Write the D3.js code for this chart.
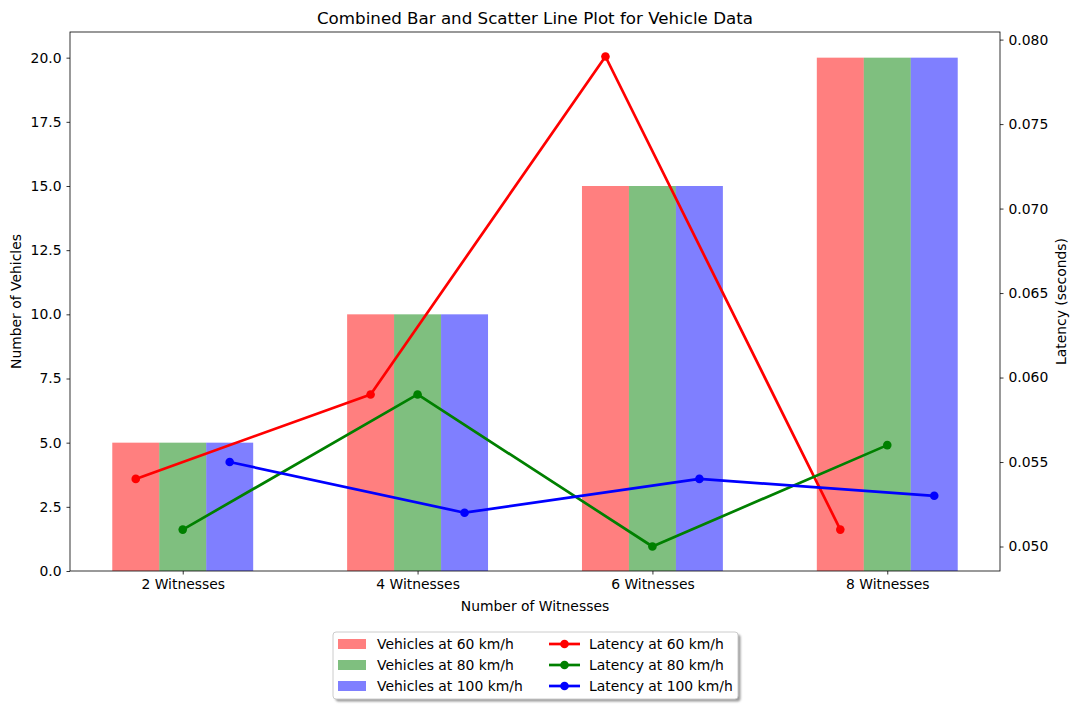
<!DOCTYPE html>
<html><head><meta charset="utf-8">
<script src="https://cdn.jsdelivr.net/npm/d3@7"></script>
<style>body{margin:0;background:#fff;} text{font-family:"DejaVu Sans",sans-serif;}</style>
</head><body>
<svg id="c" width="1078" height="709"></svg>
<script>
const categories = ["2 Witnesses","4 Witnesses","6 Witnesses","8 Witnesses"];
const vehicles60 = [5,10,15,20];
const vehicles80 = [5,10,15,20];
const vehicles100 = [5,10,15,20];
const latency60 = [0.054,0.059,0.079,0.051];
const latency80 = [0.051,0.059,0.050,0.056];
const latency100 = [0.055,0.052,0.054,0.053];
const leftTicks = [0,2.5,5,7.5,10,12.5,15,17.5,20];
const rightTicks = [0.050,0.055,0.060,0.065,0.070,0.075,0.080];

const barSeries = [
  {name:"Vehicles at 60 km/h", values:vehicles60, color:"#ff0000", off:-0.2},
  {name:"Vehicles at 80 km/h", values:vehicles80, color:"#008000", off:0},
  {name:"Vehicles at 100 km/h", values:vehicles100, color:"#0000ff", off:0.2}
];
const lineSeries = [
  {name:"Latency at 60 km/h", values:latency60, color:"#ff0000", off:-0.2},
  {name:"Latency at 80 km/h", values:latency80, color:"#008000", off:0},
  {name:"Latency at 100 km/h", values:latency100, color:"#0000ff", off:0.2}
];

const svg = d3.select("#c");
const L=70, R=1000, T=32, B=571;
const x = d3.scaleLinear().domain([-0.48,3.48]).range([L,R]);
const y = d3.scaleLinear().domain([0,21]).range([B,T]);
const allLat = latency60.concat(latency80, latency100);
const lmin = d3.min(allLat), lmax = d3.max(allLat), m = (lmax-lmin)*0.05;
const y2 = d3.scaleLinear().domain([lmin-m, lmax+m]).range([B,T]);
const bw = 0.2;

const defs = svg.append("defs");
defs.append("filter").attr("id","blur").append("feGaussianBlur").attr("stdDeviation",1);

// bars
barSeries.forEach(s=>{
  svg.append("g").selectAll("rect").data(s.values).join("rect")
    .attr("x",(d,i)=>x(i+s.off-bw/2))
    .attr("width",(d,i)=>x(i+s.off+bw/2)-x(i+s.off-bw/2))
    .attr("y",d=>y(d)).attr("height",d=>y(0)-y(d))
    .attr("fill",s.color).attr("fill-opacity",0.5);
});

// axes
const fs = "13.9px";
const ax = svg.append("g").attr("transform",`translate(0,${B})`)
  .call(d3.axisBottom(x).tickValues([0,1,2,3]).tickFormat(i=>categories[i]).tickSizeOuter(0).tickSize(3.5).tickPadding(5));
const ay = svg.append("g").attr("transform",`translate(${L},0)`)
  .call(d3.axisLeft(y).tickValues(leftTicks).tickFormat(d3.format(".1f")).tickSizeOuter(0).tickSize(3.5).tickPadding(5));
const ay2 = svg.append("g").attr("transform",`translate(${R},0)`)
  .call(d3.axisRight(y2).tickValues(rightTicks).tickFormat(d3.format(".3f")).tickSizeOuter(0).tickSize(3.5).tickPadding(5));
[ax,ay,ay2].forEach(g=>{
  g.select(".domain").remove();
  g.selectAll("text").attr("font-size",fs).attr("font-family","DejaVu Sans").attr("fill","#000");
  g.selectAll("line").attr("stroke","#000").attr("stroke-width",0.8);
});
svg.append("rect").attr("x",L).attr("y",T).attr("width",R-L).attr("height",B-T)
  .attr("fill","none").attr("stroke","#000").attr("stroke-width",0.8);

// lines
lineSeries.forEach(s=>{
  const line = d3.line().x((d,i)=>x(i+s.off)).y(d=>y2(d));
  svg.append("path").datum(s.values).attr("d",line).attr("fill","none")
    .attr("stroke",s.color).attr("stroke-width",2.7).attr("stroke-linejoin","round");
  svg.append("g").selectAll("circle").data(s.values).join("circle")
    .attr("cx",(d,i)=>x(i+s.off)).attr("cy",d=>y2(d)).attr("r",4.3).attr("fill",s.color);
});

// labels
svg.append("text").attr("x",(L+R)/2).attr("y",24).attr("text-anchor","middle")
  .attr("font-size","16.7px").text("Combined Bar and Scatter Line Plot for Vehicle Data");
svg.append("text").attr("x",(L+R)/2).attr("y",611).attr("text-anchor","middle")
  .attr("font-size",fs).text("Number of Witnesses");
svg.append("text").attr("transform",`translate(21,${(T+B)/2}) rotate(-90)`).attr("text-anchor","middle")
  .attr("font-size",fs).text("Number of Vehicles");
svg.append("text").attr("transform",`translate(1066,${(T+B)/2}) rotate(-90)`).attr("text-anchor","middle")
  .attr("font-size",fs).text("Latency (seconds)");

// legend
const lg = svg.append("g");
const bx=333, by=632, bwid=405, bh=67;
lg.append("rect").attr("x",bx+2.5).attr("y",by+2.5).attr("width",bwid).attr("height",bh).attr("rx",3)
  .attr("fill","#808080").attr("fill-opacity",0.8).attr("filter","url(#blur)");
lg.append("rect").attr("x",bx).attr("y",by).attr("width",bwid).attr("height",bh).attr("rx",3)
  .attr("fill","#fff").attr("stroke","#cccccc").attr("stroke-width",1);
const rowY = [644,665,686];
barSeries.forEach((s,i)=>{
  lg.append("rect").attr("x",338).attr("y",rowY[i]-5).attr("width",28).attr("height",10)
    .attr("fill",s.color).attr("fill-opacity",0.5);
  lg.append("text").attr("x",377).attr("y",rowY[i]+5).attr("font-size",fs).text(s.name);
});
lineSeries.forEach((s,i)=>{
  lg.append("line").attr("x1",549).attr("x2",580).attr("y1",rowY[i]).attr("y2",rowY[i])
    .attr("stroke",s.color).attr("stroke-width",2.7);
  lg.append("circle").attr("cx",564.5).attr("cy",rowY[i]).attr("r",4.3).attr("fill",s.color);
  lg.append("text").attr("x",589).attr("y",rowY[i]+5).attr("font-size",fs).text(s.name);
});
</script>
</body></html>
